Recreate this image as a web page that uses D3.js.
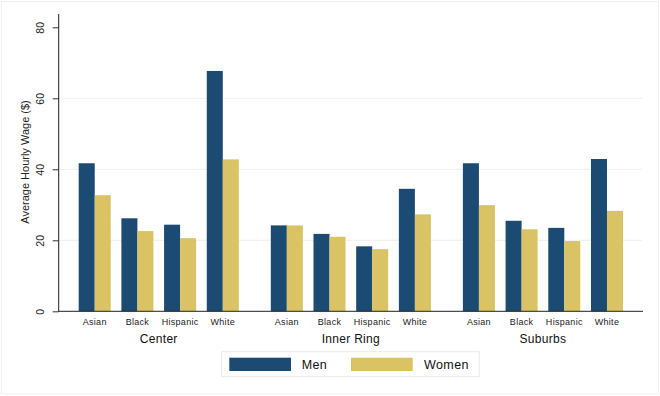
<!DOCTYPE html>
<html>
<head>
<meta charset="utf-8">
<script src="https://cdn.jsdelivr.net/npm/d3@7"></script>
<style>
  body { margin: 0; background: #fff; }
  svg { display: block; font-family: "Liberation Sans", Arial, sans-serif; }
</style>
</head>
<body>
<svg id="chart" width="660" height="396"></svg>
<script>
// ---- data ----
const areas = ["Center", "Inner Ring", "Suburbs"];
const races = ["Asian", "Black", "Hispanic", "White"];
const sexes = ["Men", "Women"];
const menWage = [
  [41.7, 26.2, 24.4, 67.7],   // Center
  [24.2, 21.8, 18.3, 34.5],   // Inner Ring
  [41.7, 25.5, 23.5, 42.9]    // Suburbs
];
const womenWage = [
  [32.7, 22.6, 20.6, 42.8],
  [24.2, 21.0, 17.5, 27.3],
  [29.9, 23.1, 19.8, 28.3]
];
const yTicks = [0, 20, 40, 60, 80];
const yTitle = "Average Hourly Wage ($)";

// ---- layout ----
const svg = d3.select("#chart");
const colors = { Men: "#1b4a72", Women: "#d9c364" };
const plotLeft = 58.7, plotRight = 643, plotTop = 14, baseY = 311.3;

svg.append("rect").attr("x", 1.5).attr("y", 1.5).attr("width", 657).attr("height", 392.5)
  .attr("fill", "#fff").attr("stroke", "#eef1f3").attr("stroke-width", 1);

const y = d3.scaleLinear().domain([0, 80]).range([baseY, 27.3]);
const xArea = d3.scaleBand().domain(areas).range([plotLeft, plotRight])
  .paddingInner(32 / 192).paddingOuter(20 / 192);
const xRace = d3.scaleBand().domain(races).range([0, xArea.bandwidth()])
  .paddingInner(0.25).paddingOuter(0);
const xSex = d3.scaleBand().domain(sexes).range([0, xRace.bandwidth()]).padding(0);

// gridlines
svg.append("g").selectAll("line").data(yTicks.filter(t => t > 0 && t < 80)).join("line")
  .attr("x1", plotLeft).attr("x2", plotRight - 1)
  .attr("y1", d => y(d)).attr("y2", d => y(d))
  .attr("stroke", "#eaeff2").attr("stroke-width", 1);

// bars
const rows = [];
areas.forEach((a, i) => races.forEach((r, j) => {
  rows.push({ area: a, race: r, sex: "Men", v: menWage[i][j] });
  rows.push({ area: a, race: r, sex: "Women", v: womenWage[i][j] });
}));
svg.append("g").selectAll("rect").data(rows).join("rect")
  .attr("x", d => xArea(d.area) + xRace(d.race) + xSex(d.sex))
  .attr("width", xSex.bandwidth())
  .attr("y", d => y(d.v))
  .attr("height", d => baseY - y(d.v))
  .attr("fill", d => colors[d.sex]);

// y axis
const yAxis = d3.axisLeft(y).tickValues(yTicks).tickSize(6).tickPadding(4).tickFormat(d3.format("d"));
const gy = svg.append("g").attr("transform", `translate(${plotLeft},0)`).call(yAxis);
gy.select(".domain").remove();
gy.selectAll(".tick line").attr("stroke", "#333");
gy.selectAll(".tick text")
  .attr("font-size", 10.5).attr("fill", "#222")
  .attr("transform", "rotate(-90)")
  .attr("x", 0).attr("y", -15).attr("dy", 0)
  .attr("text-anchor", "middle");
svg.append("line").attr("x1", plotLeft).attr("x2", plotLeft)
  .attr("y1", plotTop).attr("y2", baseY + 0.5).attr("stroke", "#222").attr("stroke-width", 1);
svg.append("line").attr("x1", plotLeft).attr("x2", plotRight)
  .attr("y1", baseY).attr("y2", baseY).attr("stroke", "#222").attr("stroke-width", 1);

svg.append("text").attr("transform", `translate(29,162) rotate(-90)`)
  .attr("text-anchor", "middle").attr("font-size", 11).attr("fill", "#222").text(yTitle);

// x labels
const xl = svg.append("g");
areas.forEach(a => {
  races.forEach(r => {
    xl.append("text").attr("x", xArea(a) + xRace(r) + xRace.bandwidth() / 2).attr("y", 324.5)
      .attr("text-anchor", "middle").attr("font-size", 9).attr("letter-spacing", 0.3)
      .attr("fill", "#222").text(r);
  });
  xl.append("text").attr("x", xArea(a) + xArea.bandwidth() / 2).attr("y", 342.7)
    .attr("text-anchor", "middle").attr("font-size", 12).attr("letter-spacing", 0.3)
    .attr("fill", "#111").text(a);
});

// legend
const lg = svg.append("g");
lg.append("rect").attr("x", 221.7).attr("y", 351.7).attr("width", 257.6).attr("height", 25)
  .attr("fill", "#fff").attr("stroke", "#e6e9ec");
const legItems = [
  { s: sexes[0], sx: 229.3, tx: 301.7 },
  { s: sexes[1], sx: 351, tx: 424 }
];
legItems.forEach(it => {
  lg.append("rect").attr("x", it.sx).attr("y", 357.7).attr("width", 61.7).attr("height", 13.3)
    .attr("fill", colors[it.s]);
  lg.append("text").attr("x", it.tx).attr("y", 368.5).attr("font-size", 12.5)
    .attr("letter-spacing", 0.4).attr("fill", "#111").text(it.s);
});
</script>
</body>
</html>
